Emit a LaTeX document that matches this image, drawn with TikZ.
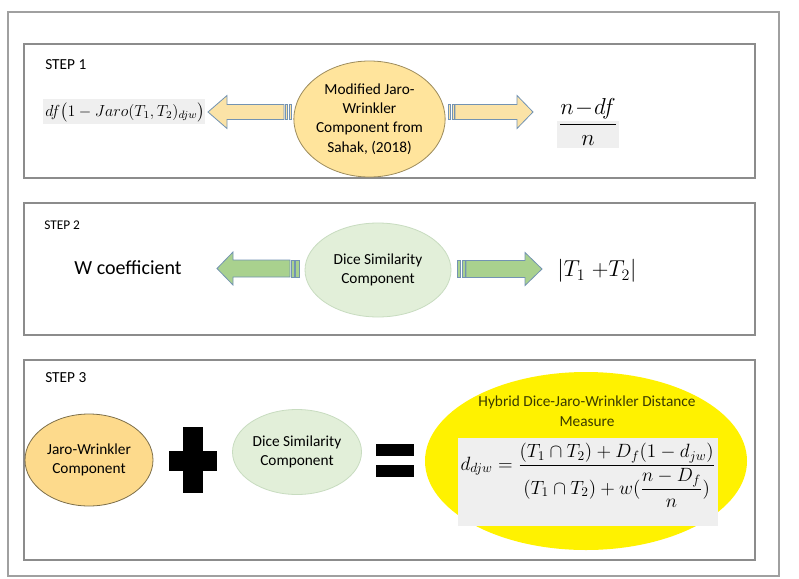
\documentclass[tikz,border=0pt]{standalone}
\usepackage{amsmath}
\usepackage[no-math]{fontspec}
\setmainfont{Carlito}
\usetikzlibrary{shapes.geometric}
\definecolor{frameGray}{HTML}{A0A0A0}
\definecolor{boxGray}{HTML}{8C8C8C}
\definecolor{jaroFill}{HTML}{FFE49C}
\definecolor{jaroFillB}{HTML}{FDDA8C}
\definecolor{jaroDraw}{HTML}{9C8B5C}
\definecolor{arrYFill}{HTML}{FBE3A7}
\definecolor{arrEdge}{HTML}{7393B3}
\definecolor{arrGFill}{HTML}{A9D18E}
\definecolor{diceFill}{HTML}{E2EFD9}
\definecolor{diceDraw}{HTML}{C8DCC0}
\definecolor{formBg}{HTML}{EFEFEF}
\definecolor{hybText}{HTML}{3A3A00}
\tikzset{
  stepbox/.style={draw=boxGray, line width=1pt},
  steplabel/.style={anchor=west, inner sep=0pt, font=\fontsize{11.5pt}{13pt}\selectfont},
  ovaltext/.style={ellipse, inner sep=0pt, align=center, font=\fontsize{11.5pt}{14.6pt}\selectfont},
  jaroOval/.style={ovaltext, fill=jaroFill, draw=jaroDraw, line width=0.6pt},
  diceOval/.style={ovaltext, fill=diceFill, draw=diceDraw, line width=0.6pt},
  yarrow/.style={fill=arrYFill, draw=arrEdge, line width=0.6pt, line join=miter},
  garrow/.style={fill=arrGFill, draw=arrEdge, line width=0.6pt, line join=miter},
  mathlbl/.style={inner sep=0pt},
}
\begin{document}
\begin{tikzpicture}[x=0.75pt,y=-0.75pt]
\useasboundingbox (0,0) rectangle (799,578);
\fill[white] (0,0) rectangle (799,578);
% outer frame
\draw[frameGray, line width=1.6pt] (8,12) rectangle (779,576);
% step boxes
\draw[stepbox] (24,44) rectangle (755,178);
\draw[stepbox] (24,203) rectangle (755,335);
\draw[stepbox] (24,360) rectangle (755,560);
\node[steplabel] (s1) at (45,65) {STEP 1};
\node[steplabel, font=\fontsize{10pt}{12pt}\selectfont] (s2) at (44,225) {STEP 2};
\node[steplabel] (s3) at (45,378) {STEP 3};

% ---------- STEP 1 ----------
\node[jaroOval, minimum width=108.75pt, minimum height=87pt] (mjw) at (369.5,119)
  {Modified Jaro-\\Wrinkler\\Component from\\Sahak, (2018)};
% left arrow
\draw[yarrow] (284,104.5) -- (227,104.5) -- (227,95.5) -- (208,112) -- (227,128.5) -- (227,119.5) -- (284,119.5) -- cycle;
\draw[yarrow] (285.5,104.5) rectangle (287.5,119.5);
\draw[yarrow] (289,104.5) rectangle (291.5,119.5);
% right arrow
\draw[yarrow] (455,104.5) -- (517,104.5) -- (517,95.5) -- (533,112) -- (517,128.5) -- (517,119.5) -- (455,119.5) -- cycle;
\draw[yarrow] (448,104.5) rectangle (450.5,119.5);
\draw[yarrow] (452,104.5) rectangle (454,119.5);
% formulas
\fill[formBg] (43,99) rectangle (205,124);
\node[mathlbl, anchor=west] (f1) at (45,112) {\fontsize{12pt}{14pt}\selectfont $df\bigl(1-Jaro(T_1,T_2)_{djw}\bigr)$};
\fill[formBg] (557,121) rectangle (619,148);
\node[mathlbl] (f2) at (588,122) {\fontsize{17.28pt}{20pt}\selectfont $\dfrac{n\!-\!df}{n}$};

% ---------- STEP 2 ----------
\node[diceOval, minimum width=109.5pt, minimum height=70.5pt] (dsc) at (378,270)
  {Dice Similarity\\Component};
\draw[garrow] (290,260) -- (233,260) -- (233,252) -- (217,268.5) -- (233,285) -- (233,277) -- (290,277) -- cycle;
\draw[garrow] (291.5,260) rectangle (294,277);
\draw[garrow] (295.5,260) rectangle (299,277);
\draw[garrow] (466,260.5) -- (525,260.5) -- (525,252.5) -- (542,269) -- (525,285.5) -- (525,277.5) -- (466,277.5) -- cycle;
\draw[garrow] (457,260.5) rectangle (460.5,277.5);
\draw[garrow] (462,260.5) rectangle (465,277.5);
\node[mathlbl, font=\fontsize{15pt}{17pt}\selectfont] (wc) at (128,268) {W coefficient};
\node[mathlbl, anchor=west] (tt) at (557,271) {\fontsize{17.28pt}{20pt}\selectfont $|T_1\;{+}T_2|$};

% ---------- STEP 3 ----------
\node[jaroOval, fill=jaroFillB, draw=jaroDraw!80!black, minimum width=96pt, minimum height=69pt] (jwc) at (89,460)
  {Jaro-Wrinkler\\Component};
\fill (183,427) rectangle (203,493);
\fill (169,451) rectangle (217,471);
\node[diceOval, minimum width=96.75pt, minimum height=63.75pt] (dsc3) at (297,452)
  {Dice Similarity\\Component};
\fill (376,444) rectangle (414,456);
\fill (376,465) rectangle (414,477);
\node[ellipse, fill=yellow, minimum width=241.5pt, minimum height=133.5pt, inner sep=0pt] (hyb) at (586,461) {};
\node[fill=formBg, minimum width=195pt, minimum height=66pt, inner sep=0pt] (fbox) at (588,482) {};
\node[mathlbl, text=hybText, align=center, font=\fontsize{11.5pt}{14.6pt}\selectfont] (htitle) at (587,411)
  {Hybrid Dice-Jaro-Wrinkler Distance\\Measure};
\node[mathlbl] (hform) at (588,475) {\fontsize{14.4pt}{17pt}\selectfont
  $d_{djw}=\dfrac{(T_1\cap T_2)+D_f(1-d_{jw})}{(T_1\cap T_2)+w(\dfrac{n-D_f}{n})}$};
\end{tikzpicture}
\end{document}
